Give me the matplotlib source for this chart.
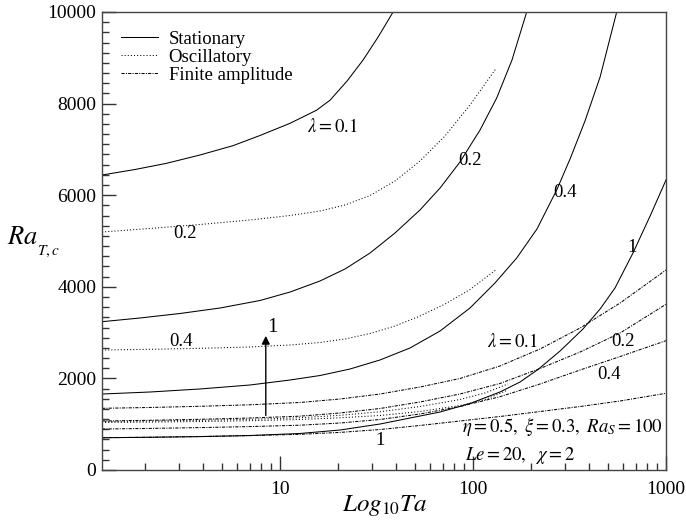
import matplotlib
matplotlib.use("Agg")
import matplotlib.pyplot as plt
from matplotlib.ticker import AutoMinorLocator, LogLocator, NullFormatter, FixedLocator

plt.rcParams['font.family'] = ['Liberation Serif', 'DejaVu Serif']
plt.rcParams['mathtext.fontset'] = 'stix'

# ---- Stationary (solid) ----
stat_01_x = [1.2, 1.779, 2.596, 3.861, 5.72, 7.90, 11.3, 15.5, 18.2, 22.3, 27.0, 32.3, 38.6]
stat_01_y = [6441, 6561, 6697, 6878, 7081, 7304, 7570, 7856, 8074, 8493, 8952, 9454, 10000]
stat_02_x = [1.2, 1.888, 3.041, 4.90, 7.90, 11.3, 16.15, 21.77, 29.33, 39.51, 53.2, 67.6, 85.7, 108.9, 132.8, 159.4, 189.9]
stat_02_y = [3238, 3319, 3417, 3537, 3701, 3886, 4127, 4389, 4738, 5175, 5677, 6157, 6725, 7424, 8122, 8952, 10000]
stat_04_x = [1.2, 2.127, 3.861, 7.01, 11.3, 16.15, 23.09, 33.03, 47.23, 67.6, 96.6, 130.1, 168.6, 214.7, 271.6, 318.5, 380.6, 455.7, 555.5]
stat_04_y = [1659, 1703, 1769, 1856, 1965, 2063, 2205, 2402, 2664, 3035, 3537, 4083, 4629, 5262, 6114, 6791, 7620, 8581, 10000]
stat_1_x = [1.2, 2.127, 3.861, 7.01, 12.7, 20.5, 33.03, 47.23, 67.6, 96.6, 138.1, 175.4, 217.3, 282.7, 371.6, 455.7, 544.4, 674.5, 827.6, 1000]
stat_1_y = [705, 714, 729, 753, 797, 873, 1004, 1135, 1266, 1452, 1703, 1921, 2194, 2598, 3079, 3515, 3974, 4738, 5546, 6332]

# ---- Oscillatory (dotted) ----
osc_02_x = [1.2, 2.127, 3.861, 7.01, 11.3, 16.15, 21.77, 29.33, 39.51, 53.2, 71.7, 96.6, 131.2]
osc_02_y = [5197, 5273, 5360, 5459, 5557, 5655, 5786, 5993, 6310, 6747, 7293, 7969, 8755]
osc_04_x = [1.2, 2.127, 3.861, 7.01, 11.3, 16.15, 21.77, 29.33, 39.51, 53.2, 71.7, 96.6, 131.2]
osc_04_y = [2620, 2635, 2657, 2686, 2729, 2784, 2860, 2980, 3144, 3362, 3624, 3941, 4367]
osc_a_x = [1.2, 2.127, 3.861, 7.01, 12.7, 20.5, 33.03, 53.2, 85.7, 115.5, 152]
osc_a_y = [1059, 1070, 1085, 1107, 1140, 1194, 1271, 1386, 1539, 1681, 1878]
osc_b_x = [1.2, 2.127, 3.861, 7.01, 12.7, 20.5, 33.03, 53.2, 85.7, 115.5, 152]
osc_b_y = [1037, 1046, 1059, 1076, 1103, 1140, 1190, 1277, 1408, 1539, 1747]

# ---- Finite amplitude (dash-dot) ----
fa_x = [1.2, 2.127, 3.861, 7.01, 12.7, 20.5, 33.03, 53.2, 85.7, 138.1, 222.6, 358.9, 578.5, 1000]
fa_01_y = [1347, 1365, 1391, 1424, 1474, 1550, 1659, 1812, 1998, 2271, 2642, 3100, 3646, 4367]
fa_02_y = [1070, 1085, 1107, 1135, 1175, 1245, 1343, 1485, 1659, 1889, 2216, 2576, 2991, 3618]
fa_04_y = [895, 908, 926, 948, 978, 1026, 1103, 1223, 1386, 1600, 1878, 2183, 2478, 2823]
fa_1_y = [705, 716, 731, 751, 779, 821, 884, 972, 1070, 1168, 1277, 1386, 1507, 1675]

legend_labels = ['Stationary', 'Oscillatory', 'Finite amplitude']
y_ticks = [0, 2000, 4000, 6000, 8000, 10000]
x_ticks = [10, 100, 1000]

fig = plt.figure(figsize=(6.86, 5.24), dpi=100)
ax = fig.add_axes([102/686, 1-470/524, (666-102)/686, (470-12)/524])

lw = 0.75
solid = dict(color='black', lw=lw, ls='-')
dotted = dict(color='black', lw=lw, ls=(0, (1, 2)))
dashdot = dict(color='black', lw=lw, ls=(0, (3, 1.2, 1, 1.2)))

h1, = ax.plot(stat_01_x, stat_01_y, **solid)
ax.plot(stat_02_x, stat_02_y, **solid)
ax.plot(stat_04_x, stat_04_y, **solid)
ax.plot(stat_1_x, stat_1_y, **solid)

h2, = ax.plot(osc_02_x, osc_02_y, **dotted)
ax.plot(osc_04_x, osc_04_y, **dotted)
ax.plot(osc_a_x, osc_a_y, **dotted)
ax.plot(osc_b_x, osc_b_y, **dotted)

h3, = ax.plot(fa_x, fa_01_y, **dashdot)
ax.plot(fa_x, fa_02_y, **dashdot)
ax.plot(fa_x, fa_04_y, **dashdot)
ax.plot(fa_x, fa_1_y, **dashdot)

ax.set_xscale('log')
ax.set_xlim(1.2, 1000)
ax.set_ylim(0, 10000)

ax.xaxis.set_major_locator(FixedLocator(x_ticks))
ax.set_xticklabels([str(t) for t in x_ticks])
ax.xaxis.set_minor_locator(LogLocator(base=10, subs=range(2, 10)))
ax.xaxis.set_minor_formatter(NullFormatter())
ax.set_yticks(y_ticks)
ax.set_yticklabels([str(t) for t in y_ticks])
ax.yaxis.set_minor_locator(AutoMinorLocator(9))

ax.tick_params(which='both', direction='in', top=False, right=False, labelsize=14, width=1.0, color='#333333')
ax.tick_params(which='major', length=10)
ax.tick_params(which='minor', length=5)
ax.tick_params(axis='y', which='major', pad=4)
ax.tick_params(axis='x', which='major', pad=8)
for s in ax.spines.values():
    s.set_linewidth(1.0)
    s.set_color('#444444')

ax.legend([h1, h2, h3], legend_labels, loc='upper left', bbox_to_anchor=(0.0, 1.0),
          frameon=False, fontsize=13.5, handlelength=2.0, handletextpad=0.55,
          labelspacing=0.05, borderaxespad=0.6)

fs = 13.5
ax.text(18.75, 7500, r'$\lambda = 0.1$', fontsize=fs, ha='center', va='center')
ax.text(97, 6750, '0.2', fontsize=fs, ha='center', va='center')
ax.text(300, 6050, '0.4', fontsize=fs, ha='center', va='center')
ax.text(670, 4857, '1', fontsize=fs, ha='center', va='center')
ax.text(3.23, 5163, '0.2', fontsize=fs, ha='center', va='center')
ax.text(3.08, 2816, '0.4', fontsize=fs, ha='center', va='center')
ax.text(160.4, 2805, r'$\lambda = 0.1$', fontsize=fs, ha='center', va='center')
ax.text(595.6, 2816, '0.2', fontsize=fs, ha='center', va='center')
ax.text(507, 2096, '0.4', fontsize=fs, ha='center', va='center')
ax.text(33.0, 655, '1', fontsize=fs, ha='center', va='center')

ax.annotate('', xy=(8.46, 2990), xytext=(8.46, 1130),
            arrowprops=dict(arrowstyle='-|>', color='black', lw=1.0, mutation_scale=12))
ax.text(9.17, 3111, '1', fontsize=15, ha='center', va='center')

ax.text(960, 939, r'$\eta = 0.5,\ \xi = 0.3,\ Ra_S = 100$', fontsize=fs, ha='right', va='center')
ax.text(91, 327, r'$Le = 20,\ \ \chi = 2$', fontsize=fs, ha='left', va='center')

fig.text(7/686, 1-238/524, r'$Ra$', fontsize=19, ha='left', va='center')
fig.text(37/686, 1-251/524, r'$T,c$', fontsize=11, ha='left', va='center')
fig.text(385/686, 1-506/524, r'$Log_{10}Ta$', fontsize=18, ha='center', va='center')

fig.savefig('out.png', dpi=100)
